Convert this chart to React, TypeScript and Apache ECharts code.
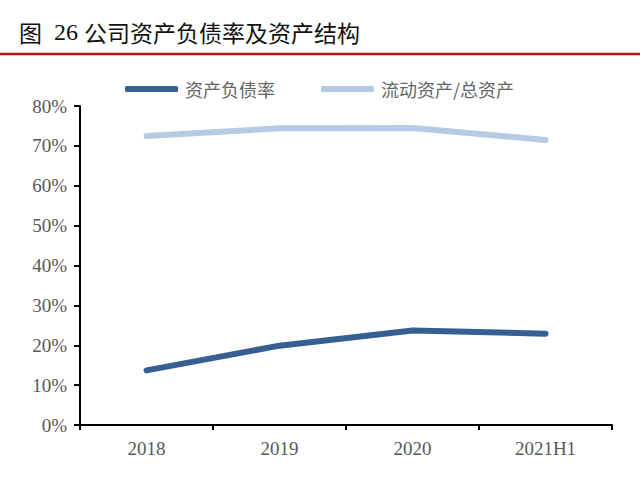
import React, { useEffect, useRef } from "react";
import * as echarts from "echarts";

const categories = ["2018", "2019", "2020", "2021H1"];
const debtRatio = [13.7, 19.9, 23.7, 22.9];
const currentAssetRatio = [72.5, 74.4, 74.5, 71.5];
const seriesNames = ["资产负债率", "流动资产/总资产"];
const titleParts = ["图", "26", "公司资产负债率及资产结构"];

export default function App() {
  const ref = useRef<HTMLDivElement>(null);
  useEffect(() => {
    const chart = echarts.init(ref.current!, null, { renderer: "svg" });
    chart.setOption({
      animation: false,
      backgroundColor: "#ffffff",
      graphic: [
        {
          type: "text",
          left: 19,
          top: 20,
          style: {
            text: `{a|${titleParts[0]}}{n|  ${titleParts[1]} }{a|${titleParts[2]}}`,
            rich: {
              a: { fontSize: 23, fontFamily: "Noto Sans CJK SC", fill: "#111111" },
              n: { fontSize: 24, fontFamily: "Liberation Serif", fill: "#111111" },
            },
          },
        },
        {
          type: "line",
          shape: { x1: 0, y1: 54, x2: 640, y2: 54 },
          style: { stroke: "#B01818", lineWidth: 2.5 },
        },
      ],
      legend: {
        left: 120,
        top: 75,
        itemWidth: 53,
        itemHeight: 6,
        itemGap: 46,
        icon: "roundRect",
        textStyle: {
          fontSize: 18,
          color: "#666666",
          fontFamily: "Noto Sans CJK SC",
          padding: [0, 0, 0, 2],
        },
        data: seriesNames,
      },
      grid: { left: 80, right: 28, top: 106, bottom: 54 },
      xAxis: {
        type: "category",
        data: categories,
        boundaryGap: true,
        axisLine: { lineStyle: { color: "#000000", width: 2 } },
        axisTick: { show: true, length: 5, lineStyle: { color: "#000000", width: 2 } },
        axisLabel: {
          fontSize: 19,
          color: "#595959",
          fontFamily: "Liberation Serif",
          margin: 14,
        },
      },
      yAxis: {
        type: "value",
        min: 0,
        max: 80,
        interval: 10,
        axisLine: { show: true, lineStyle: { color: "#000000", width: 2 } },
        axisTick: { show: true, length: 6, lineStyle: { color: "#000000", width: 2 } },
        splitLine: { show: false },
        axisLabel: {
          formatter: "{value}%",
          fontSize: 19,
          color: "#595959",
          fontFamily: "Liberation Serif",
          margin: 13,
        },
      },
      series: [
        {
          name: seriesNames[0],
          type: "line",
          data: debtRatio,
          symbol: "none",
          lineStyle: { color: "#376092", width: 6, cap: "round", join: "round" },
          itemStyle: { color: "#376092" },
        },
        {
          name: seriesNames[1],
          type: "line",
          data: currentAssetRatio,
          symbol: "none",
          lineStyle: { color: "#B7CAE3", width: 6, cap: "round", join: "round" },
          itemStyle: { color: "#B7CAE3" },
        },
      ],
    });
    return () => chart.dispose();
  }, []);
  return (
    <div
      ref={ref}
      style={{ position: "fixed", left: 0, top: 0, width: 640, height: 479 }}
    />
  );
}
